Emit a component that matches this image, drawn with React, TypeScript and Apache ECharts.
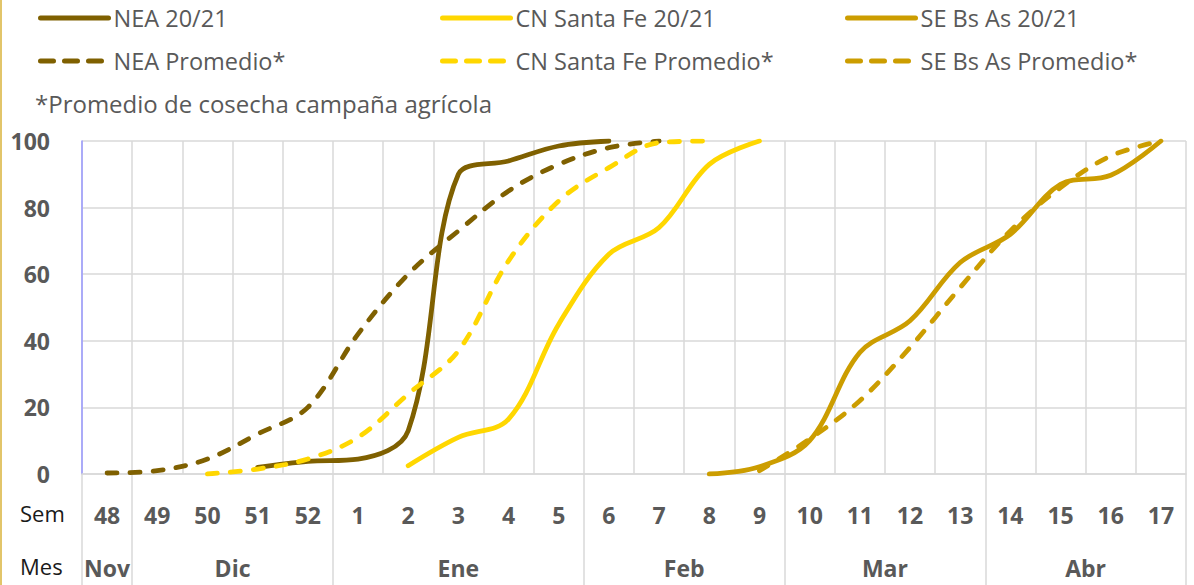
import React, { useEffect, useRef } from "react";
import * as echarts from "echarts";

const weeks = ["48", "49", "50", "51", "52", "1", "2", "3", "4", "5", "6", "7", "8", "9", "10", "11", "12", "13", "14", "15", "16", "17"];
const months = ["Nov", "Dic", "Ene", "Feb", "Mar", "Abr"];
const monthWeekCounts = [1, 4, 5, 4, 4, 4];
const yTicks = [0, 20, 40, 60, 80, 100];

const _ = null;
const neaActual = [_, _, _, 2, 3.8, 4.5, 13, 90, 94, 98.5, 100, _, _, _, _, _, _, _, _, _, _, _];
const neaAvg = [0.3, 1, 4.5, 12, 20, 42, 60, 73, 85, 93, 98, 100, _, _, _, _, _, _, _, _, _, _];
const cnActual = [_, _, _, _, _, _, 2.5, 11, 16.5, 45, 66, 74, 93, 100, _, _, _, _, _, _, _, _];
const cnAvg = [_, _, 0, 1.5, 4.5, 11, 24, 37, 64, 82, 92, 99.5, 100, _, _, _, _, _, _, _, _, _];
const seActual = [_, _, _, _, _, _, _, _, _, _, _, _, 0, 2.2, 10, 36.5, 46, 63.5, 72, 87, 89.7, 100];
const seAvg = [_, _, _, _, _, _, _, _, _, _, _, _, _, 1, 10.5, 22, 38, 56, 73, 86, 95.5, 100];

const seriesNames = ["NEA 20/21", "NEA Promedio*", "CN Santa Fe 20/21", "CN Santa Fe Promedio*", "SE Bs As 20/21", "SE Bs As Promedio*"];
const seriesData = [neaActual, neaAvg, cnActual, cnAvg, seActual, seAvg];
const seriesColors = ["#7F6000", "#7F6000", "#FFD700", "#FFD700", "#CC9D00", "#CC9D00"];
const seriesDashed = [false, true, false, true, false, true];
const footnote = "*Promedio de cosecha campaña agrícola";

const FONT = "'Open Sans', sans-serif";

export default function App() {
  const ref = useRef<HTMLDivElement>(null);
  useEffect(() => {
    if (!ref.current) return;
    const chart = echarts.init(ref.current, null, { renderer: "svg" });

    const bounds: number[] = [0];
    monthWeekCounts.forEach((c) => bounds.push(bounds[bounds.length - 1] + c));
    const centerMap: Record<string, string> = {};
    months.forEach((m, i) => {
      centerMap[((bounds[i] + bounds[i + 1]) / 2).toFixed(1)] = m;
    });
    const boundSet = new Set(bounds);

    const series = seriesNames.map((name, i) => ({
      name,
      type: "line",
      data: seriesData[i],
      smooth: 0.35,
      symbol: "none",
      connectNulls: false,
      lineStyle: {
        color: seriesColors[i],
        width: 4.8,
        type: seriesDashed[i] ? [10, 13] : "solid",
        cap: "round",
        join: "round",
      },
      itemStyle: { color: seriesColors[i] },
      z: 3,
    }));

    const legendItem = (i: number) => ({
      name: seriesNames[i],
      lineStyle: { type: seriesDashed[i] ? [13, 11] : "solid" },
    });

    const legendCommon = {
      orient: "vertical",
      top: 1,
      itemWidth: 68,
      itemHeight: 14,
      itemGap: 19,
      selectedMode: false,
      textStyle: { color: "#595959", fontSize: 23.5, fontFamily: FONT, lineHeight: 24 },
      lineStyle: { width: 5, cap: "round" },
      itemStyle: { opacity: 0 },
    };

    chart.setOption({
      animation: false,
      backgroundColor: "#ffffff",
      textStyle: { fontFamily: FONT },
      legend: [
        { ...legendCommon, left: 33, data: [legendItem(0), legendItem(1)] },
        { ...legendCommon, left: 435, data: [legendItem(2), legendItem(3)] },
        { ...legendCommon, left: 840, data: [legendItem(4), legendItem(5)] },
      ],
      grid: { left: 82, right: 8, top: 141, bottom: 111, containLabel: false },
      xAxis: [
        {
          type: "category",
          data: weeks,
          position: "bottom",
          boundaryGap: true,
          axisLine: { show: true, lineStyle: { color: "#D9D9D9", width: 1.5 } },
          axisTick: {
            show: true,
            interval: (index: number) => boundSet.has(index),
            length: 111,
            lineStyle: { color: "#D9D9D9", width: 1.5 },
          },
          splitLine: { show: true, interval: 0, lineStyle: { color: "#D9D9D9", width: 1.5 } },
          axisLabel: {
            interval: 0,
            margin: 29,
            color: "#595959",
            fontSize: 23,
            fontWeight: "bold",
            fontFamily: FONT,
          },
        },
        {
          type: "value",
          position: "bottom",
          min: 0,
          max: weeks.length,
          interval: 0.5,
          axisLine: { show: false },
          axisTick: { show: false },
          splitLine: { show: false },
          axisLabel: {
            margin: 82,
            color: "#595959",
            fontSize: 23,
            fontWeight: "bold",
            fontFamily: FONT,
            formatter: (v: number) => centerMap[v.toFixed(1)] || "",
          },
        },
      ],
      yAxis: {
        type: "value",
        min: yTicks[0],
        max: yTicks[yTicks.length - 1],
        interval: 20,
        axisLine: { show: true, lineStyle: { color: "#9999FF", width: 1.5 } },
        axisTick: { show: false },
        splitLine: { show: true, lineStyle: { color: "#D9D9D9", width: 1.5 } },
        axisLabel: {
          margin: 32,
          color: "#595959",
          fontSize: 23,
          fontWeight: "bold",
          fontFamily: FONT,
        },
      },
      graphic: [
        {
          type: "line",
          shape: { x1: 1, y1: 0, x2: 1, y2: 585 },
          style: { stroke: "#E2C56A", lineWidth: 2 },
        },
        {
          type: "text",
          left: 35,
          top: 91,
          style: { text: footnote, fill: "#595959", font: `24px ${FONT}` },
        },
        {
          type: "text",
          left: 20,
          top: 502,
          style: { text: "Sem", fill: "#1a1a1a", font: `22px ${FONT}` },
        },
        {
          type: "text",
          left: 20,
          top: 555,
          style: { text: "Mes", fill: "#1a1a1a", font: `22px ${FONT}` },
        },
      ],
      series,
    });
    return () => chart.dispose();
  }, []);
  return <div ref={ref} style={{ position: "absolute", left: 0, top: 0, width: 1194, height: 585 }} />;
}
